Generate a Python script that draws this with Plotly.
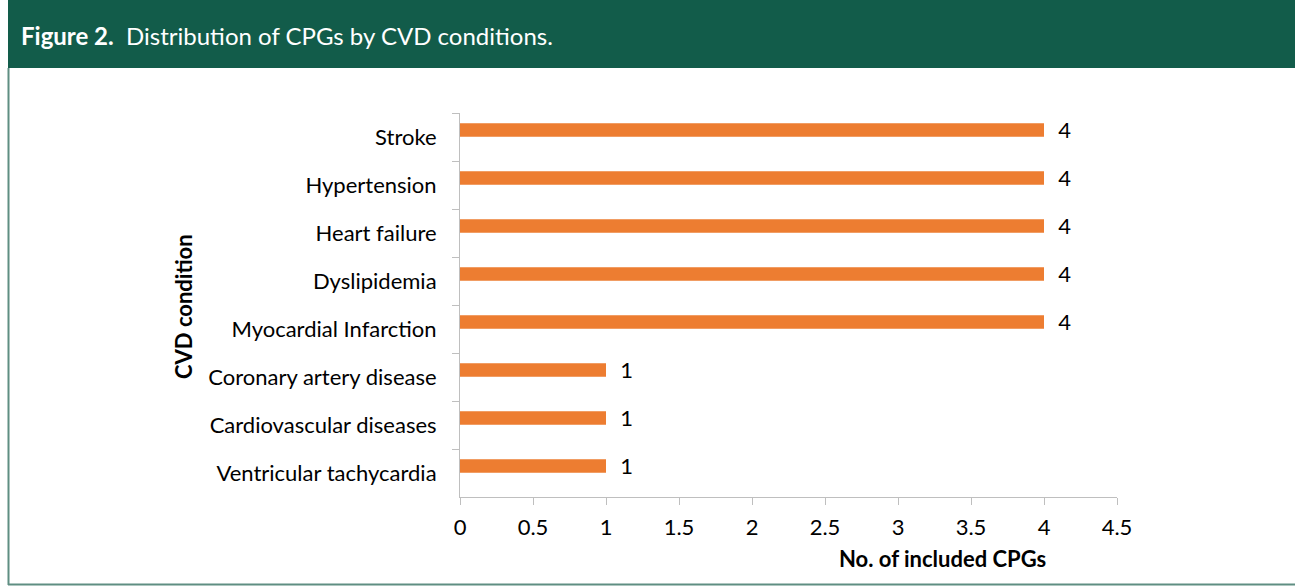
import plotly.graph_objects as go

conditions = ["Stroke", "Hypertension", "Heart failure", "Dyslipidemia",
              "Myocardial Infarction", "Coronary artery disease",
              "Cardiovascular diseases", "Ventricular tachycardia"]
counts = [4, 4, 4, 4, 4, 1, 1, 1]
x_ticks = [0, 0.5, 1, 1.5, 2, 2.5, 3, 3.5, 4, 4.5]
x_tick_labels = ["0", "0.5", "1", "1.5", "2", "2.5", "3", "3.5", "4", "4.5"]

W, H = 1295, 586
FONT = "Lato, 'Open Sans', sans-serif"
FS = 22

def px_x(p):
    return p / W

def px_y(p):
    return 1 - p / H

fig = go.Figure()
fig.add_trace(go.Bar(
    y=conditions, x=counts, orientation="h",
    marker=dict(color="#ED7D31", line=dict(width=0)),
    width=0.28, offset=-0.286,
    text=["\u00a0\u00a0" + str(c) for c in counts], textposition="outside",
    constraintext="none",
    textfont=dict(size=FS, color="#000000", family=FONT),
    cliponaxis=False,
    hoverinfo="skip",
))

axis_gray = "#BFBFBF"
fig.update_layout(
    width=W, height=H,
    margin=dict(l=0, r=0, t=0, b=0, pad=0, autoexpand=False),
    paper_bgcolor="#FFFFFF", plot_bgcolor="#FFFFFF",
    showlegend=False,
    font=dict(family=FONT, size=FS, color="#000000"),
    xaxis=dict(
        domain=[px_x(460), px_x(1117)],
        range=[0, 4.5], tickvals=x_ticks, ticktext=x_tick_labels,
        showgrid=False, zeroline=False, automargin=False,
        showline=True, linecolor=axis_gray, linewidth=1,
        ticks="outside", ticklen=7, tickcolor=axis_gray,
        tickfont=dict(size=FS, family=FONT, color="#000000"),
        ticklabelstandoff=4,
    ),
    yaxis=dict(
        domain=[px_y(497), px_y(113)],
        autorange="reversed", automargin=False,
        showgrid=False, zeroline=False,
        showline=True, linecolor=axis_gray, linewidth=1,
        ticks="outside", ticklen=7, tickcolor=axis_gray,
        tickson="boundaries",
        tickfont=dict(size=FS, family=FONT, color="#000000"),
        ticklabelstandoff=18,
    ),
)

# Header band
fig.add_shape(type="rect", xref="paper", yref="paper",
              x0=px_x(8), x1=1, y0=px_y(68), y1=1,
              fillcolor="#125C4A", line=dict(width=0), layer="below")
# Frame lines
fig.add_shape(type="line", xref="paper", yref="paper",
              x0=px_x(8.5), x1=px_x(8.5), y0=px_y(585), y1=px_y(68),
              line=dict(color="#5F8E82", width=2))
fig.add_shape(type="line", xref="paper", yref="paper",
              x0=px_x(8), x1=1, y0=px_y(584.5), y1=px_y(584.5),
              line=dict(color="#5F8E82", width=2))

fig.add_annotation(xref="paper", yref="paper", x=px_x(19), y=px_y(35),
                   xanchor="left", yanchor="middle", showarrow=False,
                   text="<b>Figure 2.</b>  Distribution of CPGs by CVD conditions.",
                   font=dict(size=24, color="#FFFFFF", family=FONT))

fig.add_annotation(xref="paper", yref="paper", x=px_x(183), y=px_y(307),
                   xanchor="center", yanchor="middle", showarrow=False,
                   textangle=-90, text="<b>CVD condition</b>",
                   font=dict(size=FS, color="#000000", family=FONT))

fig.add_annotation(xref="paper", yref="paper", x=px_x(1048), y=px_y(558),
                   xanchor="right", yanchor="middle", showarrow=False,
                   text="<b>No. of included CPGs</b>",
                   font=dict(size=FS, color="#000000", family=FONT))

fig.write_html(
    "out.html",
    config={"displayModeBar": False},
    post_script="document.body.style.margin='0';document.body.style.overflow='hidden';",
)
